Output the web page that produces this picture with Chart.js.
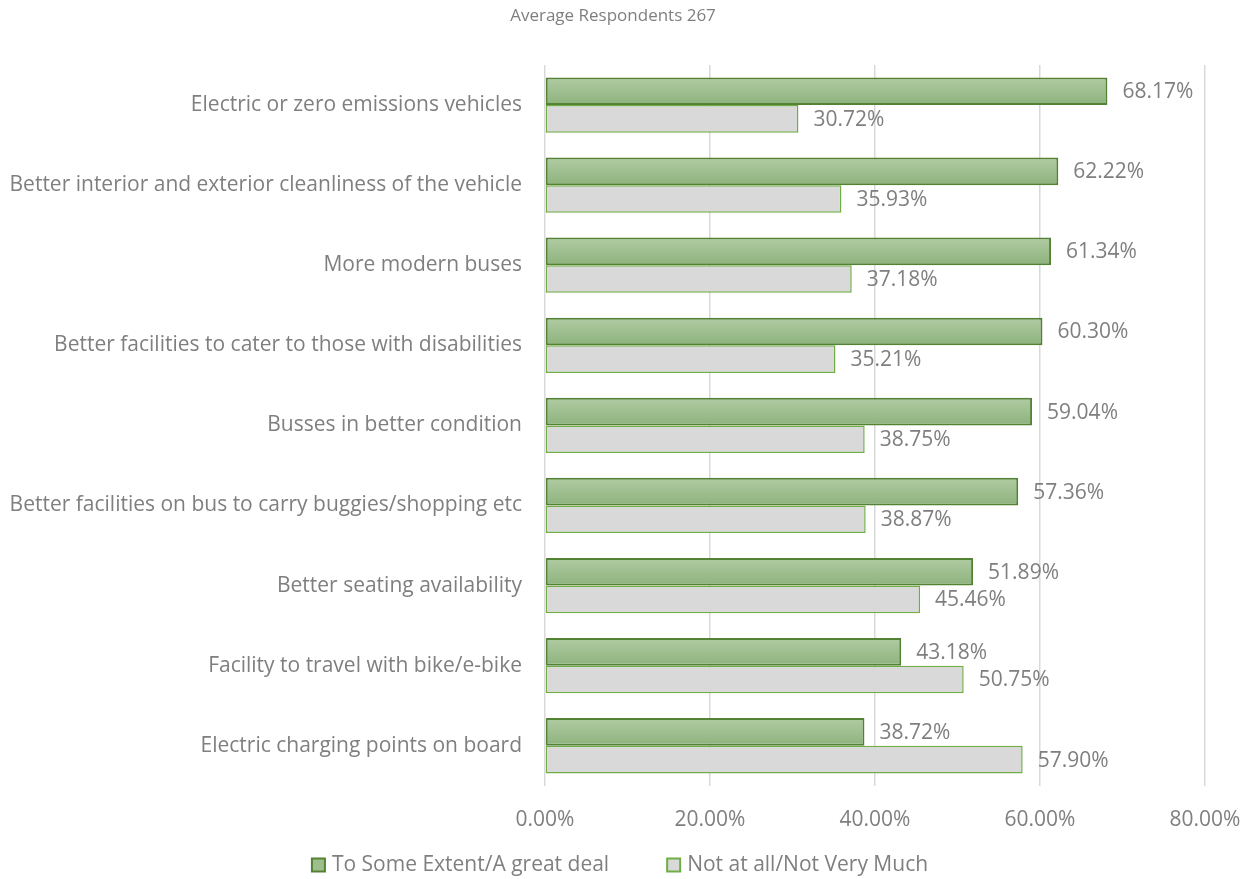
<!DOCTYPE html>
<html>
<head>
<meta charset="utf-8">
<script src="https://cdn.jsdelivr.net/npm/chart.js@4/dist/chart.umd.min.js"></script>
<style>
  html, body { margin: 0; padding: 0; background: #fff; }
  #wrap { width: 1252px; height: 879px; }
</style>
</head>
<body>
<div id="wrap"><canvas id="myChart"></canvas></div>
<script>
const categories = [
  "Electric or zero emissions vehicles",
  "Better interior and exterior cleanliness of the vehicle",
  "More modern buses",
  "Better facilities to cater to those with disabilities",
  "Busses in better condition",
  "Better facilities on bus to carry buggies/shopping etc",
  "Better seating availability",
  "Facility to travel with bike/e-bike",
  "Electric charging points on board"
];
const someExtent = [68.17, 62.22, 61.34, 60.30, 59.04, 57.36, 51.89, 43.18, 38.72];
const notAtAll = [30.72, 35.93, 37.18, 35.21, 38.75, 38.87, 45.46, 50.75, 57.90];
const seriesNames = ["To Some Extent/A great deal", "Not at all/Not Very Much"];
const titleText = "Average Respondents 267";

const grey = "#7f7f7f";
const fontFam = "'Open Sans'";
const fontSize = 21;
const catPct = 0.69;

// vertical gradient for each green bar
function greenFill(c) {
  const chart = c.chart;
  const y = chart.scales.y;
  if (!chart.chartArea || !y || c.dataIndex === undefined) return "#9dbf8c";
  const band = (chart.chartArea.bottom - chart.chartArea.top) / categories.length;
  const mid = y.getPixelForValue(c.dataIndex);
  const top = mid - band * catPct / 2;
  const g = chart.ctx.createLinearGradient(0, top, 0, mid);
  g.addColorStop(0, "#b0cba3");
  g.addColorStop(1, "#8db37c");
  return g;
}

const titlePlugin = {
  id: "topTitle",
  afterDraw(chart) {
    const ctx = chart.ctx;
    ctx.save();
    ctx.font = "17px " + fontFam;
    ctx.fillStyle = grey;
    ctx.textAlign = "center";
    ctx.textBaseline = "middle";
    ctx.fillText(titleText, 613, 16);
    ctx.restore();
  }
};

// legend drawn by hand so the gap between the two entries matches
const legendPlugin = {
  id: "bottomLegend",
  afterDraw(chart) {
    const ctx = chart.ctx;
    ctx.save();
    ctx.font = fontSize + "px " + fontFam;
    ctx.textBaseline = "middle";
    const box = 13, gapText = 7, gapItem = 58;
    const w = seriesNames.map((s) => box + gapText + ctx.measureText(s).width);
    let x = 620 - (w[0] + w[1] + gapItem) / 2;
    const y = 865;
    const fills = ["#9dbf8c", "#d9d9d9"];
    const strokes = ["#548235", "#70ad47"];
    seriesNames.forEach((s, i) => {
      ctx.fillStyle = fills[i];
      ctx.fillRect(x, y - box / 2, box, box);
      ctx.strokeStyle = strokes[i];
      ctx.lineWidth = 2;
      ctx.strokeRect(x, y - box / 2, box, box);
      ctx.fillStyle = grey;
      ctx.fillText(s, x + box + gapText, y);
      x += w[i] + gapItem;
    });
    ctx.restore();
  }
};

const valueLabels = {
  id: "valueLabels",
  afterDatasetsDraw(chart) {
    const ctx = chart.ctx;
    ctx.save();
    ctx.font = fontSize + "px " + fontFam;
    ctx.fillStyle = grey;
    ctx.textBaseline = "middle";
    chart.data.datasets.forEach((ds, i) => {
      chart.getDatasetMeta(i).data.forEach((el, j) => {
        ctx.fillText(ds.data[j].toFixed(2) + "%", el.x + 15, el.y + 1);
      });
    });
    ctx.restore();
  }
};

const data = {
  labels: categories,
  datasets: [
    {
      label: seriesNames[0],
      data: someExtent,
      backgroundColor: greenFill,
      borderColor: "#548235",
      borderWidth: 2,
      borderSkipped: false
    },
    {
      label: seriesNames[1],
      data: notAtAll,
      backgroundColor: "#d9d9d9",
      borderColor: "#70ad47",
      borderWidth: 1.5,
      borderSkipped: false
    }
  ]
};

const ctx = document.getElementById("myChart").getContext("2d");
const myChart = new Chart(ctx, {
  type: "bar",
  data: data,
  plugins: [titlePlugin, valueLabels, legendPlugin],
  options: {
    indexAxis: "y",
    responsive: true,
    maintainAspectRatio: false,
    animation: false,
    categoryPercentage: catPct,
    barPercentage: 1,
    layout: { padding: { top: 65, left: 0, right: 0, bottom: 24 } },
    scales: {
      x: {
        min: 0,
        max: 80,
        afterFit(scale) { scale.paddingRight = 47; scale.paddingLeft = 0; },
        ticks: {
          stepSize: 20,
          padding: 22,
          color: grey,
          font: { family: fontFam, size: fontSize },
          callback: (v) => v.toFixed(2) + "%"
        },
        grid: { color: "#d9d9d9", lineWidth: 1.5, drawTicks: false },
        border: { display: false }
      },
      y: {
        afterFit(scale) { scale.width = 545; },
        ticks: {
          padding: 23,
          color: grey,
          font: { family: fontFam, size: fontSize }
        },
        grid: { display: false, drawTicks: false },
        border: { display: false }
      }
    },
    plugins: {
      legend: { display: false },
      tooltip: { enabled: false }
    }
  }
});
</script>
</body>
</html>
